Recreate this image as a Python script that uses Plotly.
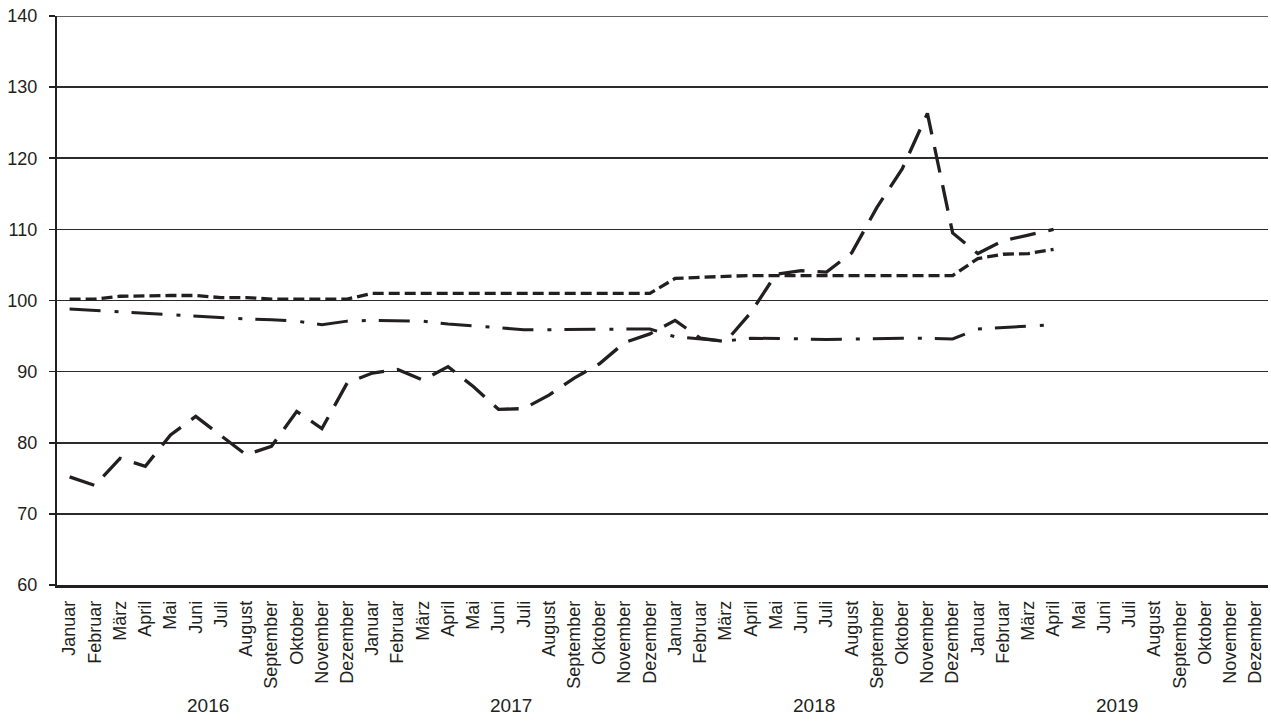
import plotly.graph_objects as go

month_names = ["Januar", "Februar", "März", "April", "Mai", "Juni", "Juli",
               "August", "September", "Oktober", "November", "Dezember"]
years = ["2016", "2017", "2018", "2019"]
tick_labels = month_names * len(years)

series_long_dash = [
    75.2, 74.0, 77.8, 76.7, 81.1, 83.7, 81.0, 78.3, 79.5, 84.4, 82.0, 88.4,
    89.8, 90.3, 88.8, 90.7, 87.9, 84.7, 84.8, 86.7, 89.1, 91.1, 94.1, 95.3,
    97.2, 94.7, 94.2, 98.3, 103.7, 104.2, 104.0, 106.7, 113.1, 118.5, 126.3, 109.5,
    106.6, 108.4, 109.2, 110.0,
]
series_short_dash = [
    100.2, 100.2, 100.6, 100.7, 100.7, 100.7, 100.4, 100.4, 100.2, 100.2, 100.2, 100.2,
    101.0, 101.0, 101.0, 101.0, 101.0, 101.0, 101.0, 101.0, 101.0, 101.0, 101.0, 101.0,
    103.1, 103.3, 103.4, 103.5, 103.5, 103.5, 103.5, 103.5, 103.5, 103.5, 103.5, 103.5,
    105.9, 106.5, 106.6, 107.2,
]
series_dash_dot = [
    98.8, 98.6, 98.3, 98.1, 98.0, 97.8, 97.6, 97.4, 97.3, 97.1, 96.6, 97.1,
    97.2, 97.2, 97.1, 96.7, 96.4, 96.2, 95.9, 95.9, 95.9, 96.0, 96.0, 96.0,
    94.9, 94.6, 94.3, 94.7, 94.7, 94.6, 94.5, 94.6, 94.6, 94.7, 94.7, 94.6,
    96.0, 96.2, 96.3, 96.6,
]
y_min, y_max, y_step = 60, 140, 10

n_ticks = len(tick_labels)
x_all = list(range(n_ticks))

FONT = "Liberation Sans, Arial, sans-serif"
INK = "#231f20"

fig = go.Figure()

fig.add_trace(go.Scatter(
    x=x_all[:len(series_short_dash)], y=series_short_dash, mode="lines",
    line=dict(color=INK, width=3.3, dash="11px,5px"), hoverinfo="skip"))
fig.add_trace(go.Scatter(
    x=x_all[:len(series_dash_dot)], y=series_dash_dot, mode="lines",
    line=dict(color=INK, width=3, dash="31px,14px,4px,13px"), hoverinfo="skip"))
fig.add_trace(go.Scatter(
    x=x_all[:len(series_long_dash)], y=series_long_dash, mode="lines",
    line=dict(color=INK, width=3.3, dash="26px,13px"), hoverinfo="skip"))

for i, yr in enumerate(years):
    fig.add_annotation(
        x=i * 12 + 5.5, y=-0.211, xref="x", yref="paper",
        text=yr, showarrow=False, yanchor="middle",
        font=dict(family=FONT, size=19, color=INK))

# top gridline at the range edge
fig.add_shape(type="line", xref="paper", yref="y", x0=0, x1=1,
              y0=y_max, y1=y_max, line=dict(color="#2b2b2b", width=1.6))

fig.update_layout(
    width=1271, height=722,
    margin=dict(l=57, r=3, t=16, b=137, autoexpand=False),
    paper_bgcolor="white", plot_bgcolor="white",
    showlegend=False,
    font=dict(family=FONT, size=18, color=INK),
)

fig.update_xaxes(
    range=[-0.5, n_ticks - 0.5],
    tickmode="array", tickvals=x_all, ticktext=tick_labels,
    tickangle=-90, ticks="", showgrid=False,
    showline=True, linecolor=INK, linewidth=2.5,
    tickfont=dict(family=FONT, size=18, color=INK),
    ticklabelstandoff=6, ticklabeloverflow="allow",
    zeroline=False, automargin=False,
)
fig.update_yaxes(
    range=[y_min, y_max], dtick=y_step, tick0=y_min,
    showgrid=True, gridcolor="#2b2b2b", gridwidth=1.6,
    showline=True, linecolor=INK, linewidth=2.2,
    ticks="outside", ticklen=6, tickwidth=1.6, tickcolor=INK,
    tickfont=dict(family=FONT, size=18, color=INK),
    ticklabelstandoff=8, ticklabeloverflow="allow",
    zeroline=False, automargin=False,
)

fig.write_html(
    "out.html",
    config={"displayModeBar": False, "staticPlot": True},
    post_script="document.body.style.margin='0';document.body.style.overflow='hidden';",
)
